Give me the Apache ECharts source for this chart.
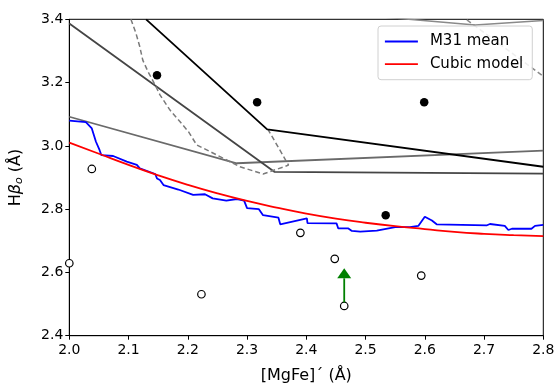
<!DOCTYPE html>
<html>
<head>
<meta charset="utf-8">
<script src="https://cdn.jsdelivr.net/npm/echarts@6/dist/echarts.min.js"></script>
<style>
  html, body { margin: 0; padding: 0; background: #fff; }
  #chart { width: 557px; height: 386px; }
</style>
</head>
<body>
<div id="chart"></div>
<script>
// Tick values
const xTicks = [2.0, 2.1, 2.2, 2.3, 2.4, 2.5, 2.6, 2.7, 2.8];
const yTicks = [2.4, 2.6, 2.8, 3.0, 3.2, 3.4];

// M31 mean index track
const m31Mean = [
  [2.000, 3.080], [2.028, 3.075], [2.038, 3.055], [2.045, 3.013], [2.051, 2.987],
  [2.054, 2.971], [2.074, 2.968], [2.097, 2.950], [2.114, 2.940], [2.119, 2.929],
  [2.145, 2.911], [2.148, 2.897], [2.153, 2.892], [2.159, 2.876], [2.184, 2.862],
  [2.209, 2.845], [2.229, 2.847], [2.242, 2.834], [2.265, 2.827], [2.283, 2.832],
  [2.295, 2.827], [2.300, 2.803], [2.320, 2.800], [2.327, 2.781], [2.353, 2.773],
  [2.356, 2.752], [2.401, 2.771], [2.402, 2.756], [2.451, 2.755], [2.454, 2.739],
  [2.471, 2.739], [2.477, 2.731], [2.491, 2.729], [2.519, 2.732], [2.550, 2.743],
  [2.575, 2.743], [2.589, 2.747], [2.600, 2.776], [2.612, 2.764], [2.620, 2.752],
  [2.705, 2.749], [2.710, 2.753], [2.735, 2.747], [2.741, 2.734], [2.747, 2.738],
  [2.780, 2.738], [2.786, 2.747], [2.800, 2.750]
];

// Cubic model curve samples
const cubicModel = [
  [2.00, 3.010], [2.05, 2.975], [2.10, 2.940], [2.15, 2.907], [2.20, 2.877],
  [2.25, 2.850], [2.30, 2.826], [2.35, 2.805], [2.40, 2.786], [2.45, 2.770],
  [2.50, 2.757], [2.55, 2.746], [2.60, 2.737], [2.65, 2.728], [2.70, 2.722],
  [2.75, 2.718], [2.80, 2.715]
];

// Model grid tracks
const gridBlack = [[2.1296, 3.400], [2.334, 3.052], [2.800, 2.934]];
const gridDark = [[2.000, 3.387], [2.346, 2.918], [2.800, 2.912]];
const gridMid = [[2.000, 3.092], [2.2825, 2.945], [2.800, 2.985]];
const gridTop = [[2.45, 3.420], [2.685, 3.382], [2.800, 3.396]];
const gridDashed = [
  [2.104, 3.400], [2.1125, 3.356], [2.119, 3.313], [2.124, 3.271], [2.133, 3.234],
  [2.145, 3.192], [2.153, 3.161], [2.170, 3.113], [2.187, 3.076], [2.201, 3.045],
  [2.215, 3.003], [2.249, 2.971], [2.288, 2.934], [2.327, 2.911], [2.370, 2.939],
  [2.336, 3.050]
];
const gridDashedTop = [[2.671, 3.398], [2.800, 3.220]];

// Observed points
const filledPts = [[2.148, 3.223], [2.317, 3.138], [2.599, 3.138], [2.534, 2.781]];
const openPts = [
  [2.000, 2.629], [2.038, 2.927], [2.223, 2.531], [2.390, 2.725],
  [2.448, 2.643], [2.464, 2.494], [2.594, 2.590]
];

// Shift arrow: [x0, y0, x1, y1]
const shiftArrow = [[2.464, 2.505, 2.464, 2.613]];

const FONT = 'DejaVu Sans';

function gridLine(data, color, width, type) {
  return {
    type: 'line', data: data, symbol: 'none', silent: true, z: 1,
    lineStyle: { color: color, width: width, type: type || 'solid' },
    clip: true
  };
}

const chart = echarts.init(document.getElementById('chart'), null, { renderer: 'canvas' });

chart.setOption({
  animation: false,
  backgroundColor: '#fff',
  grid: {
    left: 69.3, right: 13.7, top: 19.3, bottom: 50.3,
    outerBoundsMode: 'none', containLabel: false,
    show: true, borderColor: '#000', borderWidth: 1, backgroundColor: 'transparent'
  },
  xAxis: {
    type: 'value', min: xTicks[0], max: xTicks[xTicks.length - 1], interval: 0.1,
    name: '[MgFe]\u00b4 (\u00c5)', nameLocation: 'middle', nameGap: 32,
    nameTextStyle: { fontFamily: FONT, fontSize: 16, color: '#000' },
    axisLine: { show: true, onZero: false, lineStyle: { color: '#000', width: 1 } },
    axisTick: { show: true, length: 4, lineStyle: { color: '#000' } },
    axisLabel: { fontFamily: FONT, fontSize: 14, color: '#000', margin: 8,
      formatter: v => v.toFixed(1) },
    splitLine: { show: false }
  },
  yAxis: {
    type: 'value', min: yTicks[0], max: yTicks[yTicks.length - 1], interval: 0.2,
    name: '{n|H}{i|\u03b2}{s|o}{n| (\u00c5)}', nameLocation: 'middle', nameGap: 45, nameRotate: 90,
    nameTextStyle: {
      fontFamily: FONT, fontSize: 16, color: '#000',
      rich: {
        n: { fontFamily: FONT, fontSize: 16, color: '#000' },
        i: { fontFamily: FONT, fontSize: 16, fontStyle: 'italic', color: '#000' },
        s: { fontFamily: FONT, fontSize: 11, fontStyle: 'italic', color: '#000', verticalAlign: 'bottom', padding: [6, 0, 0, 0] }
      }
    },
    axisLine: { show: true, onZero: false, lineStyle: { color: '#000', width: 1 } },
    axisTick: { show: true, length: 4, lineStyle: { color: '#000' } },
    axisLabel: { fontFamily: FONT, fontSize: 14, color: '#000', margin: 6,
      formatter: v => v.toFixed(1) },
    splitLine: { show: false }
  },
  legend: {
    left: 378, top: 26, orient: 'vertical',
    data: ['M31 mean', 'Cubic model'],
    itemWidth: 33, itemHeight: 14, itemGap: 7.7,
    padding: [8, 9, 8, 6],
    backgroundColor: 'rgba(255,255,255,0.85)',
    borderColor: '#d0d0d0', borderWidth: 1, borderRadius: 3,
    itemStyle: { opacity: 0 },
    lineStyle: { width: 1.8 },
    textStyle: { fontFamily: FONT, fontSize: 15, color: '#000', padding: [0, 0, 0, 7] },
    selectedMode: false
  },
  series: [
    gridLine(gridTop, '#8a8a8a', 1.5),
    gridLine(gridDashedTop, '#8a8a8a', 1.5, [5, 3]),
    gridLine(gridMid, '#6a6a6a', 1.8),
    gridLine(gridDark, '#454545', 1.8),
    gridLine(gridDashed, '#7a7a7a', 1.5, [5, 3]),
    gridLine(gridBlack, '#000000', 1.8),
    {
      name: 'M31 mean', type: 'line', data: m31Mean, symbol: 'none', z: 3,
      lineStyle: { color: '#0000ff', width: 1.8 }, itemStyle: { color: '#0000ff' }
    },
    {
      name: 'Cubic model', type: 'line', data: cubicModel, symbol: 'none', smooth: true, z: 3,
      lineStyle: { color: '#ff0000', width: 1.8 }, itemStyle: { color: '#ff0000' }
    },
    {
      type: 'scatter', data: filledPts, symbol: 'circle', symbolSize: 8.5, z: 4,
      itemStyle: { color: '#000', opacity: 1 }
    },
    {
      type: 'scatter', data: openPts, symbol: 'circle', symbolSize: 7.5, z: 4,
      itemStyle: { color: '#fff', borderColor: '#000', borderWidth: 1.2, opacity: 1 }
    },
    {
      type: 'custom', data: shiftArrow, z: 5, clip: false,
      encode: { x: [0, 2], y: [1, 3] },
      renderItem: function (params, api) {
        const p0 = api.coord([api.value(0), api.value(1)]);
        const p1 = api.coord([api.value(2), api.value(3)]);
        const headLen = 10, headHalf = 7;
        const dx = p1[0] - p0[0], dy = p1[1] - p0[1];
        const len = Math.sqrt(dx * dx + dy * dy);
        const ux = dx / len, uy = dy / len;
        const bx = p1[0] - ux * headLen, by = p1[1] - uy * headLen;
        return {
          type: 'group',
          children: [
            { type: 'line', shape: { x1: p0[0], y1: p0[1], x2: bx, y2: by },
              style: { stroke: '#008000', lineWidth: 1.8 } },
            { type: 'polygon',
              shape: { points: [[p1[0], p1[1]], [bx - uy * headHalf, by + ux * headHalf], [bx + uy * headHalf, by - ux * headHalf]] },
              style: { fill: '#008000' } }
          ]
        };
      }
    }
  ]
});
</script>
</body>
</html>
